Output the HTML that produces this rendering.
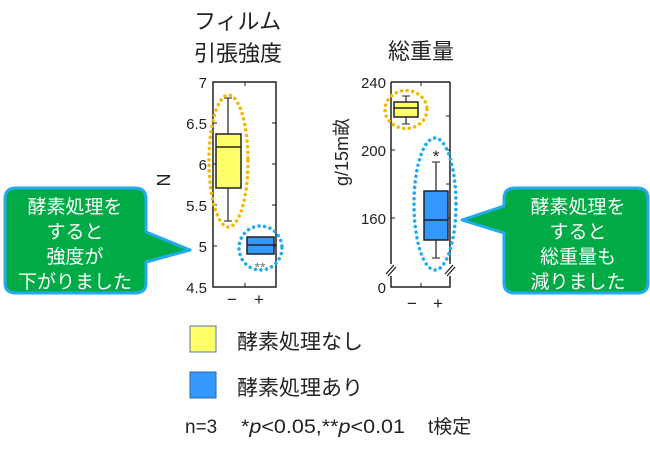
<!DOCTYPE html>
<html><head><meta charset="utf-8"><style>
html,body{margin:0;padding:0;background:#fff;}
svg{display:block;}
text{font-family:"Liberation Sans","Noto Sans CJK JP",sans-serif;}
</style></head><body>
<svg width="650" height="453" viewBox="0 0 650 453" xmlns="http://www.w3.org/2000/svg">
<text x="194" y="29" font-size="22" fill="#222">フィルム</text>
<text x="194" y="61" font-size="22" fill="#222">引張強度</text>
<text x="388" y="59" font-size="22" fill="#222">総重量</text>

<rect x="213" y="82" width="63" height="205" fill="none" stroke="#222" stroke-width="1.5"/>
<g stroke="#222" stroke-width="1">
<line x1="245" y1="82" x2="245" y2="86"/><line x1="245" y1="287" x2="245" y2="283"/>
<line x1="276" y1="123" x2="272" y2="123"/><line x1="276" y1="164" x2="272" y2="164"/>
<line x1="276" y1="205" x2="272" y2="205"/><line x1="276" y1="246" x2="272" y2="246"/>
<line x1="213" y1="123" x2="217" y2="123"/><line x1="213" y1="164" x2="217" y2="164"/>
<line x1="213" y1="205" x2="217" y2="205"/><line x1="213" y1="246" x2="217" y2="246"/>
</g>
<g font-size="15" fill="#222" text-anchor="end">
<text x="207" y="88">7</text><text x="207" y="129">6.5</text><text x="207" y="170">6</text>
<text x="207" y="211">5.5</text><text x="207" y="252">5</text><text x="207" y="293">4.5</text>
</g>
<text transform="translate(170,180) rotate(-90)" font-size="18" fill="#222" text-anchor="middle">N</text>
<line x1="228" y1="98" x2="228" y2="221" stroke="#222" stroke-width="1.2"/>
<line x1="224" y1="98" x2="232" y2="98" stroke="#222"/><line x1="224" y1="221" x2="232" y2="221" stroke="#222"/>
<rect x="216" y="134" width="25" height="54" fill="#ffff66" stroke="#222" stroke-width="1.5"/>
<line x1="216" y1="147" x2="241" y2="147" stroke="#222" stroke-width="1.5"/>
<ellipse cx="228.5" cy="161" rx="19.5" ry="66" fill="none" stroke="#f5b800" stroke-width="3.5" stroke-dasharray="0.1 5.5" stroke-linecap="round"/>
<rect x="247" y="237" width="27" height="17" fill="#3399ff" stroke="#222" stroke-width="1.5"/>
<line x1="247" y1="245" x2="276" y2="245" stroke="#222" stroke-width="1.5"/>
<text x="260" y="272" font-size="14" fill="#777" text-anchor="middle">**</text>
<ellipse cx="260.5" cy="248" rx="21.5" ry="22" fill="none" stroke="#22aaee" stroke-width="3.5" stroke-dasharray="0.1 5.5" stroke-linecap="round"/>
<text x="232" y="305" font-size="17" fill="#222" text-anchor="middle">−</text>
<text x="259" y="305" font-size="17" fill="#222" text-anchor="middle">+</text>

<path d="M391 82 V287 H450 V82" fill="none" stroke="#222" stroke-width="1.5"/>
<line x1="391" y1="82" x2="450" y2="82" stroke="#222" stroke-width="1.5"/>
<g stroke="#222" stroke-width="1">
<line x1="421" y1="82" x2="421" y2="86"/><line x1="421" y1="287" x2="421" y2="283"/>
<line x1="391" y1="150" x2="395" y2="150"/><line x1="391" y1="218" x2="395" y2="218"/>
<line x1="450" y1="150" x2="446" y2="150"/><line x1="450" y1="218" x2="446" y2="218"/>
<line x1="450" y1="116" x2="446" y2="116"/><line x1="450" y1="184" x2="446" y2="184"/>
</g>
<rect x="386" y="264" width="10" height="12" fill="#fff"/>
<rect x="445" y="264" width="10" height="12" fill="#fff"/>
<g stroke="#222" stroke-width="1.3">
<line x1="386" y1="274" x2="394" y2="265"/><line x1="388" y1="276" x2="396" y2="267"/>
<line x1="445" y1="274" x2="453" y2="265"/><line x1="447" y1="276" x2="455" y2="267"/>
</g>
<g font-size="15" fill="#222" text-anchor="end">
<text x="386" y="88">240</text><text x="386" y="156">200</text><text x="386" y="224">160</text><text x="386" y="293">0</text>
</g>
<text transform="translate(348,152) rotate(-90)" font-size="18" fill="#222" text-anchor="middle">g/15m畝</text>
<line x1="406" y1="96" x2="406" y2="124" stroke="#222" stroke-width="1.2"/>
<line x1="402" y1="96" x2="410" y2="96" stroke="#222"/><line x1="402" y1="124" x2="410" y2="124" stroke="#222"/>
<rect x="394" y="102" width="24" height="15" fill="#ffff66" stroke="#222" stroke-width="1.5"/>
<line x1="394" y1="108" x2="418" y2="108" stroke="#222" stroke-width="1.5"/>
<ellipse cx="406" cy="109.5" rx="21" ry="19" fill="none" stroke="#f5b800" stroke-width="3.5" stroke-dasharray="0.1 5.5" stroke-linecap="round"/>
<line x1="436" y1="162" x2="436" y2="258" stroke="#222" stroke-width="1.2"/>
<line x1="432" y1="162" x2="440" y2="162" stroke="#222"/><line x1="432" y1="258" x2="440" y2="258" stroke="#222"/>
<rect x="424" y="191" width="24" height="49" fill="#3399ff" stroke="#222" stroke-width="1.5"/>
<line x1="424" y1="220" x2="448" y2="220" stroke="#222" stroke-width="1.5"/>
<text x="436" y="162" font-size="17" fill="#222" text-anchor="middle">*</text>
<ellipse cx="435" cy="204" rx="21" ry="66" fill="none" stroke="#22aaee" stroke-width="3.5" stroke-dasharray="0.1 5.5" stroke-linecap="round"/>
<text x="412" y="309" font-size="17" fill="#222" text-anchor="middle">−</text>
<text x="438" y="309" font-size="17" fill="#222" text-anchor="middle">+</text>

<path d="M16 188 H135 Q146 188 146 199 V232 L190 250 L146 262 V283 Q146 293 135 293 H16 Q5 293 5 283 V199 Q5 188 16 188 Z" fill="#00aa44" stroke="#22aaee" stroke-width="3" stroke-linejoin="round"/>
<g font-size="19" fill="#fff" text-anchor="middle">
<text x="75" y="213">酵素処理を</text>
<text x="75" y="238">すると</text>
<text x="75" y="263">強度が</text>
<text x="75" y="288">下がりました</text>
</g>
<path d="M515 188 H637 Q648 188 648 199 V283 Q648 293 637 293 H515 Q504 293 504 283 V233 L462 220 L504 206 V199 Q504 188 515 188 Z" fill="#00aa44" stroke="#22aaee" stroke-width="3" stroke-linejoin="round"/>
<g font-size="19" fill="#fff" text-anchor="middle">
<text x="578" y="213">酵素処理を</text>
<text x="578" y="238">すると</text>
<text x="578" y="263">総重量も</text>
<text x="578" y="288">減りました</text>
</g>

<rect x="190" y="326" width="26" height="26" fill="#ffff66" stroke="#5577aa" stroke-width="1"/>
<text x="237" y="349" font-size="21" fill="#222">酵素処理なし</text>
<rect x="190" y="372" width="26" height="26" fill="#3399ff" stroke="#336699" stroke-width="1"/>
<text x="237" y="395" font-size="21" fill="#222">酵素処理あり</text>
<text x="185" y="433" font-size="19" fill="#222">n=3</text>
<text x="241" y="433" font-size="19" fill="#222" textLength="164" lengthAdjust="spacingAndGlyphs">*<tspan font-style="italic">p</tspan>&lt;0.05,**<tspan font-style="italic">p</tspan>&lt;0.01</text>
<text x="428" y="433" font-size="19" fill="#222">t検定</text>
</svg>
</body></html>
